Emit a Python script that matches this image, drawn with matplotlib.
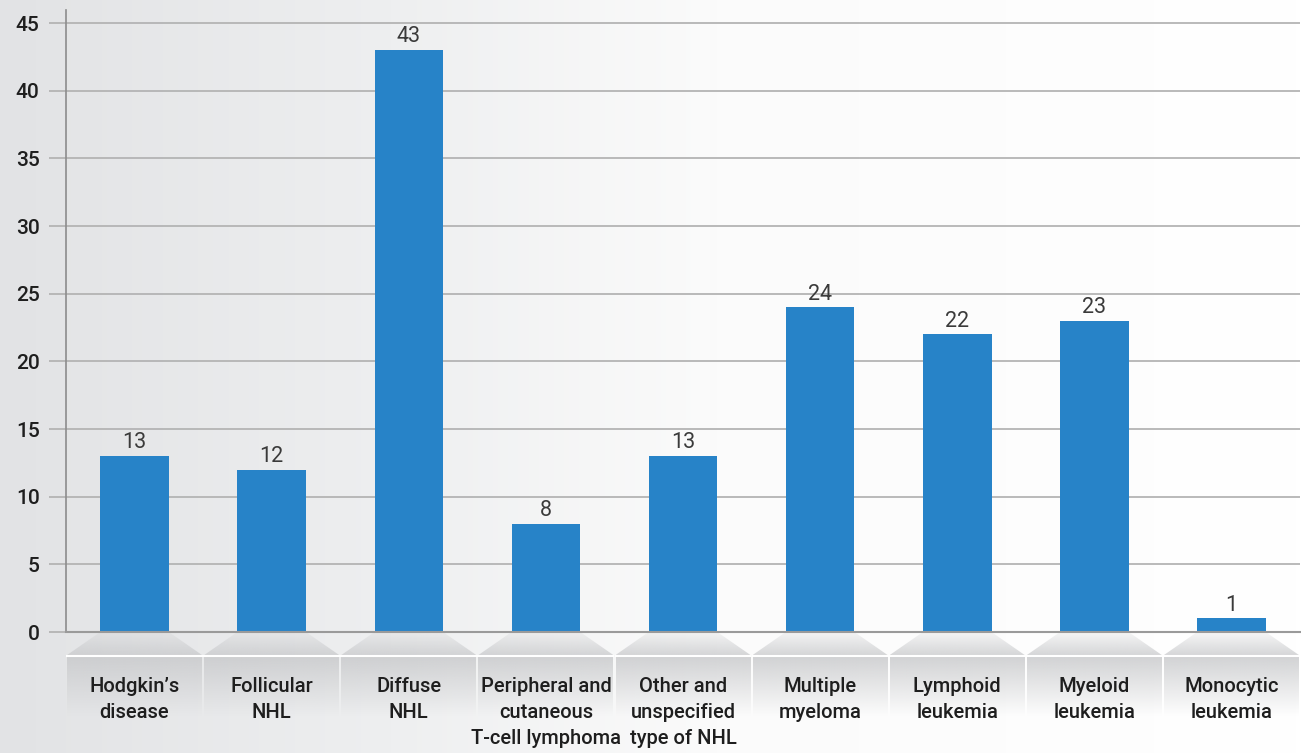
import numpy as np
import matplotlib.pyplot as plt
from matplotlib.patches import Polygon
from matplotlib.colors import LinearSegmentedColormap, to_rgb

categories = ["Hodgkin’s\ndisease", "Follicular\nNHL", "Diffuse\nNHL",
              "Peripheral and\ncutaneous\nT-cell lymphoma",
              "Other and\nunspecified\ntype of NHL", "Multiple\nmyeloma",
              "Lymphoid\nleukemia", "Myeloid\nleukemia", "Monocytic\nleukemia"]
values = [13, 12, 43, 8, 13, 24, 22, 23, 1]
yticks = [0, 5, 10, 15, 20, 25, 30, 35, 40, 45]

plt.rcParams['font.family'] = ['Roboto', 'DejaVu Sans']

W, H = 1301, 753
fig = plt.figure(figsize=(W / 100, H / 100), dpi=100)

# background: light grey on the left fading to white
bg = fig.add_axes([0, 0, 1, 1], zorder=0)
bg_cmap = LinearSegmentedColormap.from_list(
    'bg', [(0, '#e2e3e5'), (0.3, '#eeeff0'), (0.55, '#fbfbfb'), (1, '#ffffff')])
bg.imshow(np.linspace(0, 1, 256).reshape(1, -1), aspect='auto', cmap=bg_cmap,
          extent=[0, 1, 0, 1])
bg.axis('off')

x = np.arange(len(values))
left, base = 66 / W, 121 / H
ax = fig.add_axes([left, base, 1234 / W, 622.5 / H], zorder=2)
ax.set_facecolor('none')
ax.bar(x, values, width=0.5, color='#2783c8', zorder=3)
for xi, v in zip(x, values):
    ax.text(xi, v + 0.2, str(v), ha='center', va='bottom', fontsize=15.5,
            color='#3a3a3a')

ax.set_xlim(-0.5, len(values) - 0.5)
ax.set_ylim(0, 46)
ax.set_yticks(yticks)
ax.set_xticks([])
ax.grid(axis='y', color='#b4b4b4', lw=1.3, zorder=0)
ax.tick_params(axis='y', length=12, width=1.3, color='#b4b4b4', pad=7,
               labelsize=15, labelcolor='#1e1e1e')
for t in ax.get_yticklabels():
    t.set_fontweight('medium')
for s in ['top', 'right']:
    ax.spines[s].set_visible(False)
ax.spines['left'].set_color('#8c8c8c')
ax.spines['left'].set_linewidth(1.2)
ax.spines['bottom'].set_color('#9a9a9a')
ax.spines['bottom'].set_linewidth(1.5)
ax.spines['bottom'].set_zorder(4)

# category label boxes below the axis (y in pixels below baseline)
lab = fig.add_axes([left, 0, 1234 / W, base], zorder=1)
lab.set_xlim(-0.5, len(values) - 0.5)
lab.set_ylim(-121, 0)
lab.axis('off')

trap_img = np.zeros((64, 1, 4))
trap_img[:, 0, :3] = to_rgb('#c9cacc')
trap_img[:, 0, 3] = np.linspace(0.15, 0.75, 64)
box_img = np.zeros((64, 1, 4))
box_img[:, 0, :3] = to_rgb('#c8c9cb')
box_img[:, 0, 3] = np.clip(np.linspace(0.8, -0.5, 64), 0, 1)

gap = 0.008
for xi, name in zip(x, categories):
    x0, x1 = xi - 0.5 + gap, xi + 0.5 - gap
    trap = Polygon([(xi - 0.25, 0), (xi + 0.25, 0), (x1, -23), (x0, -23)],
                   closed=True, facecolor='none', edgecolor='none')
    lab.add_patch(trap)
    im = lab.imshow(trap_img, aspect='auto', origin='upper',
                    extent=[x0, x1, -23, 0], zorder=1, interpolation='bilinear')
    im.set_clip_path(trap)
    lab.imshow(box_img, aspect='auto', origin='upper',
               extent=[x0, x1, -121, -25], zorder=1, interpolation='bilinear')
    lab.plot([x0, x1], [-24, -24], color='white', lw=1.5, zorder=2)
    lab.text(xi, -45, name, ha='center', va='top', fontsize=14.5,
             color='#1e1e1e', linespacing=1.45, zorder=3, fontweight='medium')
lab.set_xlim(-0.5, len(values) - 0.5)
lab.set_ylim(-121, 0)

fig.savefig('out.png', dpi=100)
